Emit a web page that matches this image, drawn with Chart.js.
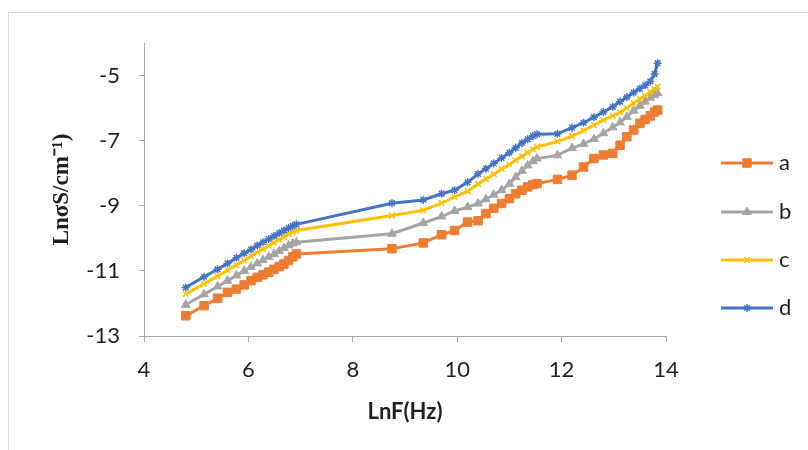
<!DOCTYPE html>
<html>
<head>
<meta charset="utf-8">
<script src="https://cdn.jsdelivr.net/npm/chart.js@4"></script>
<style>
  html, body { margin: 0; padding: 0; background: #fff; }
  #wrap { width: 808px; height: 450px; }
</style>
</head>
<body>
<div id="wrap"><canvas id="chart" width="808" height="450"></canvas></div>
<script>
// LnF (Hz) sweep, shared by all four samples
const lnF = [4.8, 5.15, 5.41, 5.6, 5.77, 5.92, 6.05, 6.17, 6.28, 6.39, 6.49, 6.59, 6.68, 6.77, 6.85, 6.92,
  8.75, 9.35, 9.7, 9.95, 10.2, 10.4, 10.55, 10.7, 10.85, 11.0, 11.12, 11.24, 11.35, 11.45, 11.53,
  11.92, 12.2, 12.42, 12.62, 12.8, 12.98, 13.12, 13.25, 13.38, 13.5, 13.6, 13.7, 13.78, 13.84];

const sigmaA = [-12.38, -12.07, -11.84, -11.66, -11.56, -11.43, -11.30, -11.20, -11.12, -11.04, -10.95, -10.87, -10.79, -10.68, -10.57, -10.48,
  -10.32, -10.14, -9.89, -9.76, -9.50, -9.46, -9.24, -9.08, -8.93, -8.78, -8.63, -8.52, -8.42, -8.35, -8.32,
  -8.19, -8.06, -7.81, -7.55, -7.44, -7.39, -7.14, -6.88, -6.67, -6.47, -6.35, -6.24, -6.12, -6.06];

const sigmaB = [-12.04, -11.72, -11.48, -11.30, -11.14, -11.00, -10.88, -10.77, -10.67, -10.57, -10.48, -10.39, -10.30, -10.22, -10.16, -10.12,
  -9.86, -9.53, -9.33, -9.16, -9.04, -8.93, -8.80, -8.66, -8.52, -8.33, -8.12, -7.93, -7.76, -7.63, -7.55,
  -7.45, -7.23, -7.10, -6.95, -6.77, -6.59, -6.44, -6.27, -6.08, -5.93, -5.80, -5.68, -5.60, -5.54];

const sigmaC = [-11.71, -11.40, -11.16, -10.98, -10.82, -10.68, -10.55, -10.43, -10.33, -10.23, -10.13, -10.04, -9.95, -9.87, -9.80, -9.76,
  -9.30, -9.14, -8.92, -8.73, -8.55, -8.33, -8.18, -8.03, -7.87, -7.73, -7.60, -7.48, -7.37, -7.27, -7.19,
  -7.03, -6.86, -6.69, -6.52, -6.37, -6.24, -6.13, -6.00, -5.85, -5.72, -5.62, -5.50, -5.42, -5.34];

const sigmaD = [-11.51, -11.18, -10.95, -10.77, -10.60, -10.46, -10.34, -10.22, -10.12, -10.02, -9.93, -9.84, -9.76, -9.68, -9.62, -9.57,
  -8.92, -8.82, -8.63, -8.52, -8.28, -8.02, -7.86, -7.70, -7.53, -7.37, -7.22, -7.07, -6.96, -6.86, -6.80,
  -6.79, -6.60, -6.45, -6.28, -6.12, -5.96, -5.80, -5.66, -5.52, -5.40, -5.30, -5.18, -4.95, -4.62];

const seriesLabels = ['a', 'b', 'c', 'd'];
const xTicks = [4, 6, 8, 10, 12, 14];
const yTicks = [-13, -11, -9, -7, -5];

const AXIS_COLOR = '#a6a6a6';
const TEXT_COLOR = '#1f1f1f';

function toPoints(ys) {
  return ys.map((y, i) => ({ x: lnF[i], y }));
}

function series(label, ys, color, style, radius, order) {
  return {
    label,
    data: toPoints(ys),
    showLine: true,
    borderColor: color,
    backgroundColor: color,
    borderWidth: 3,
    tension: 0,
    pointStyle: style,
    pointRadius: radius,
    pointBorderWidth: (style === 'crossRot' || style === 'star') ? 1.5 : 1,
    pointBorderColor: color,
    pointBackgroundColor: color,
    order,
  };
}

// Outer frame, only its top and left edges fall inside the canvas
const framePlugin = {
  id: 'frame',
  beforeDraw(chart) {
    const ctx = chart.ctx;
    ctx.save();
    ctx.strokeStyle = '#d9d9d9';
    ctx.lineWidth = 1;
    ctx.strokeRect(8.5, 12.5, 1000, 1000);
    ctx.restore();
  },
};

// Legend drawn as line + marker, like the spreadsheet style
const lineLegend = {
  id: 'lineLegend',
  afterDraw(chart) {
    const ctx = chart.ctx;
    const x0 = 721, x1 = 773, textX = 779;
    const rowY = [163, 212, 260, 308];
    ctx.save();
    chart.data.datasets.forEach((ds, i) => {
      const y = rowY[i];
      ctx.strokeStyle = ds.borderColor;
      ctx.lineWidth = ds.borderWidth;
      ctx.beginPath();
      ctx.moveTo(x0, y);
      ctx.lineTo(x1, y);
      ctx.stroke();
      ctx.fillStyle = ds.pointBackgroundColor;
      ctx.strokeStyle = ds.pointBorderColor;
      ctx.lineWidth = ds.pointBorderWidth;
      Chart.helpers.drawPoint(ctx, {
        pointStyle: ds.pointStyle, radius: ds.pointRadius, rotation: 0, borderWidth: ds.pointBorderWidth,
      }, (x0 + x1) / 2, y);
      ctx.fillStyle = TEXT_COLOR;
      ctx.font = '22px Lato';
      ctx.textBaseline = 'middle';
      ctx.textAlign = 'left';
      ctx.fillText(ds.label, textX, y);
    });
    ctx.restore();
  },
};

new Chart(document.getElementById('chart'), {
  type: 'scatter',
  data: {
    datasets: [
      series(seriesLabels[0], sigmaA, '#ed7d31', 'rect', 6, 3),
      series(seriesLabels[1], sigmaB, '#a5a5a5', 'triangle', 5, 2),
      series(seriesLabels[2], sigmaC, '#ffc000', 'crossRot', 4, 1),
      series(seriesLabels[3], sigmaD, '#4472c4', 'star', 4, 0),
    ],
  },
  options: {
    responsive: false,
    animation: false,
    events: [],
    layout: { padding: { left: 0, top: 43, right: 142, bottom: 0 } },
    plugins: {
      legend: { display: false },
      tooltip: { enabled: false },
    },
    scales: {
      x: {
        type: 'linear',
        min: 4, max: 14,
        afterBuildTicks: (s) => { s.ticks = xTicks.map(v => ({ value: v })); },
        afterFit: (s) => { s.height = 114; },
        grid: { drawOnChartArea: false, drawTicks: true, tickLength: 6, color: AXIS_COLOR },
        border: { display: true, color: AXIS_COLOR, width: 1 },
        ticks: { color: TEXT_COLOR, font: { family: 'Lato', size: 22 }, padding: 15, maxRotation: 0 },
        title: {
          display: true, text: 'LnF(Hz)', color: TEXT_COLOR,
          font: { family: 'Lato', size: 22, weight: 'bold' },
          padding: { top: 0, bottom: 25 },
        },
      },
      y: {
        type: 'linear',
        min: -13, max: -4,
        afterBuildTicks: (s) => { s.ticks = yTicks.map(v => ({ value: v })); },
        afterFit: (s) => { s.width = 144; },
        grid: { drawOnChartArea: false, drawTicks: true, tickLength: 5, color: AXIS_COLOR },
        border: { display: true, color: AXIS_COLOR, width: 1 },
        ticks: { color: TEXT_COLOR, font: { family: 'Lato', size: 22 }, padding: 19 },
        title: {
          display: true, text: 'LnσS/cm⁻¹)', color: TEXT_COLOR,
          font: { family: 'Liberation Serif', size: 23, weight: 'bold' },
          padding: { top: 48, bottom: 0 },
        },
      },
    },
  },
  plugins: [framePlugin, lineLegend],
});
</script>
</body>
</html>
